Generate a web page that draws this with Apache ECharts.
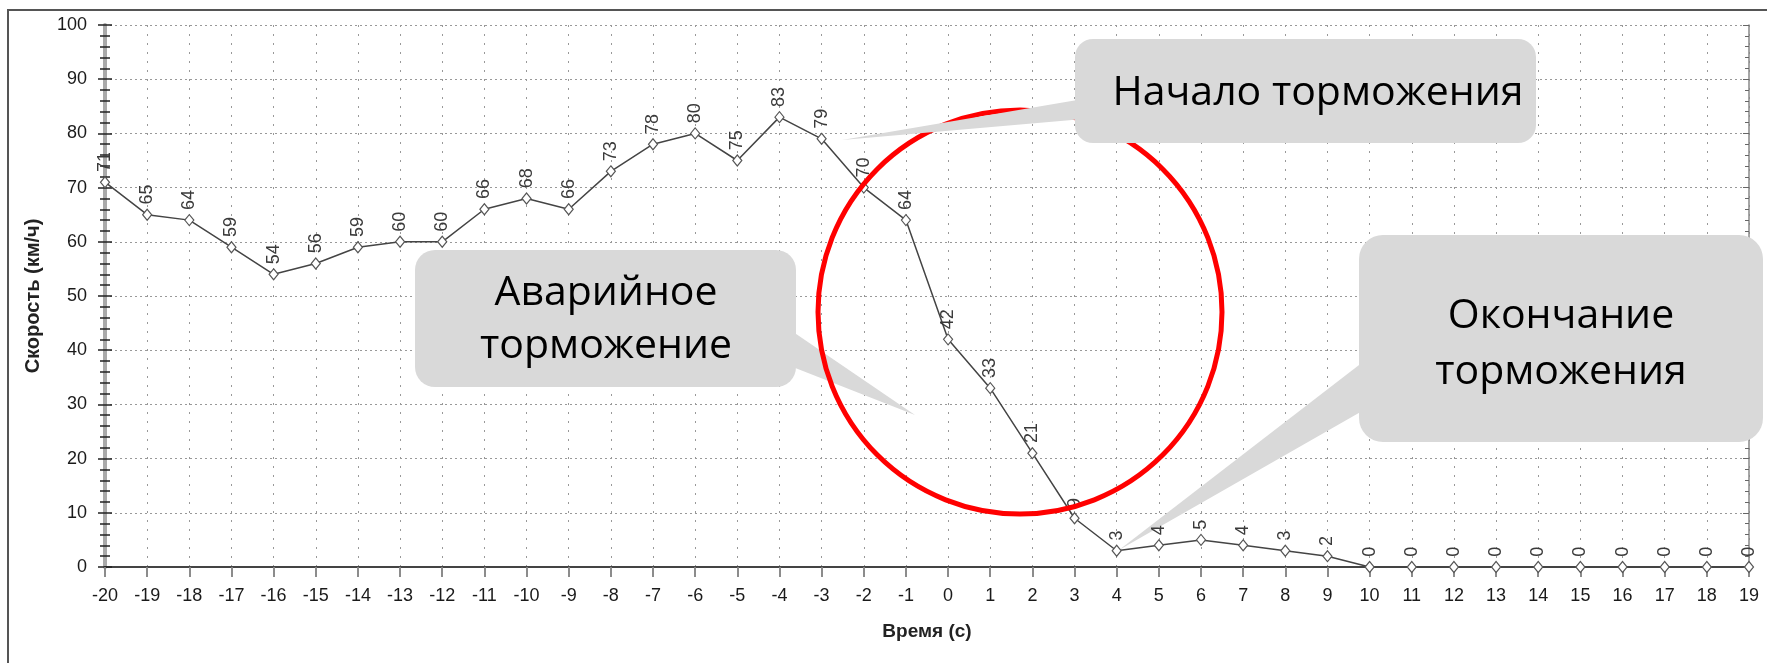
<!DOCTYPE html>
<html><head><meta charset="utf-8">
<script src="https://cdn.jsdelivr.net/npm/echarts@6/dist/echarts.min.js"></script>
<style>html,body{margin:0;padding:0;background:#fff}#c{width:1767px;height:663px}</style>
</head><body><div id="c"></div>
<script>
const times = ['-20','-19','-18','-17','-16','-15','-14','-13','-12','-11','-10','-9','-8','-7','-6','-5','-4','-3','-2','-1','0','1','2','3','4','5','6','7','8','9','10','11','12','13','14','15','16','17','18','19'];
const speeds = [71,65,64,59,54,56,59,60,60,66,68,66,73,78,80,75,83,79,70,64,42,33,21,9,3,4,5,4,3,2,0,0,0,0,0,0,0,0,0,0];
const yTicks = [0,10,20,30,40,50,60,70,80,90,100];
const xTitle = 'Время (с)';
const yTitle = 'Скорость (км/ч)';
const notes = ['Начало торможения', 'Аварийное\nторможение', 'Окончание\nторможения'];

const FONT = '"Liberation Sans", Arial, sans-serif';
const CALL = '"Open Sans", "Noto Sans", sans-serif';
const GREY = '#d9d9d9';

const chart = echarts.init(document.getElementById('c'));
chart.setOption({
  animation: false,
  backgroundColor: '#fff',
  grid: {left: 105, right: 18, top: 25, bottom: 96},
  xAxis: [{
    type: 'category', data: times, boundaryGap: false, position: 'bottom',
    name: xTitle, nameLocation: 'middle', nameGap: 55,
    nameTextStyle: {fontFamily: FONT, fontWeight: 'bold', fontSize: 19, color: '#222'},
    axisLine: {lineStyle: {color: '#555', width: 2}},
    axisTick: {show: true, alignWithLabel: true, length: 10, lineStyle: {color: '#777', width: 1.5}},
    axisLabel: {fontFamily: FONT, fontSize: 18, color: '#1a1a1a', margin: 20, interval: 0},
    splitLine: {show: true, lineStyle: {color: '#999', type: [2, 7], width: 1}}
  }, {
    type: 'category', data: times, boundaryGap: false, position: 'top',
    axisLine: {lineStyle: {color: '#444', width: 2}},
    axisTick: {show: true, inside: true, length: 10, interval: 0, lineStyle: {color: '#888', width: 1.5}},
    axisLabel: {show: false}, splitLine: {show: false}
  }],
  yAxis: [{
    type: 'value', min: 0, max: 100, interval: 10, position: 'left',
    name: yTitle, nameLocation: 'middle', nameGap: 62, nameRotate: 90,
    nameTextStyle: {fontFamily: FONT, fontWeight: 'bold', fontSize: 20, color: '#222'},
    axisLine: {show: true, lineStyle: {color: '#aaa', width: 4}},
    axisTick: {show: true, length: 7, lineStyle: {color: '#222', width: 1.5}},
    minorTick: {show: true, splitNumber: 5, length: 5, lineStyle: {color: '#222', width: 1.5}},
    axisLabel: {fontFamily: FONT, fontSize: 18, color: '#1a1a1a', margin: 18,
      formatter: v => yTicks.includes(v) ? String(v) : ''},
    splitLine: {show: true, lineStyle: {color: '#999', type: [2, 3], width: 1}}
  }, {
    type: 'value', min: 0, max: 100, interval: 10, position: 'left',
    axisLine: {show: false},
    axisTick: {show: true, inside: true, length: 7, lineStyle: {color: '#222', width: 1.5}},
    minorTick: {show: true, splitNumber: 5, length: 5, lineStyle: {color: '#222', width: 1.5}},
    axisLabel: {show: false}, splitLine: {show: false}
  }, {
    type: 'value', min: 0, max: 100, interval: 10, position: 'right',
    axisLine: {show: true, lineStyle: {color: '#888', width: 1.5}},
    axisTick: {show: true, inside: true, length: 6, lineStyle: {color: '#666', width: 1}},
    minorTick: {show: true, splitNumber: 5, length: 4, lineStyle: {color: '#666', width: 1}},
    axisLabel: {show: false}, splitLine: {show: false}
  }],
  series: [{
    type: 'line', data: speeds, xAxisIndex: 0, yAxisIndex: 0,
    symbol: 'diamond', symbolSize: [9, 11], showAllSymbol: true,
    lineStyle: {color: '#444', width: 1.5},
    itemStyle: {color: '#fff', borderColor: '#555', borderWidth: 1.2},
    label: {show: true, position: 'top', rotate: 90, align: 'left', verticalAlign: 'middle',
      distance: 4, fontFamily: FONT, fontSize: 18, color: '#3a3a3a'},
    z: 3
  }],
  graphic: [
    {type: 'rect', shape: {x: 8, y: 10, width: 1800, height: 700}, style: {fill: 'none', stroke: '#555', lineWidth: 2}, z: 1, silent: true},
    // callout 2
    {type: 'polygon', shape: {points: [[780, 323], [780, 362], [915, 415]]}, style: {fill: GREY}, z: 10},
    {type: 'rect', shape: {x: 415, y: 250, width: 381, height: 137, r: 20}, style: {fill: GREY}, z: 10},
    {type: 'text', x: 606, y: 320, style: {text: notes[1], font: '41px ' + CALL, fill: '#000', align: 'center', verticalAlign: 'middle', lineHeight: 53}, z: 11},
    // red circle
    {type: 'circle', shape: {cx: 1020, cy: 312, r: 202}, style: {fill: 'none', stroke: '#ff0000', lineWidth: 5}, z: 12},
    // callout 1
    {type: 'polygon', shape: {points: [[842, 140], [1095, 97], [1095, 118]]}, style: {fill: GREY}, z: 13},
    {type: 'rect', shape: {x: 1075, y: 39, width: 461, height: 104, r: 18}, style: {fill: GREY}, z: 13},
    {type: 'text', x: 1318, y: 93, style: {text: notes[0], font: '41px ' + CALL, fill: '#000', align: 'center', verticalAlign: 'middle'}, z: 14},
    // callout 3
    {type: 'polygon', shape: {points: [[1119, 550], [1385, 345], [1385, 398]]}, style: {fill: GREY}, z: 2},
    {type: 'rect', shape: {x: 1359, y: 235, width: 404, height: 207, r: 24}, style: {fill: GREY}, z: 13},
    {type: 'text', x: 1561, y: 344, style: {text: notes[2], font: '41px ' + CALL, fill: '#000', align: 'center', verticalAlign: 'middle', lineHeight: 56}, z: 14}
  ]
});
</script></body></html>
